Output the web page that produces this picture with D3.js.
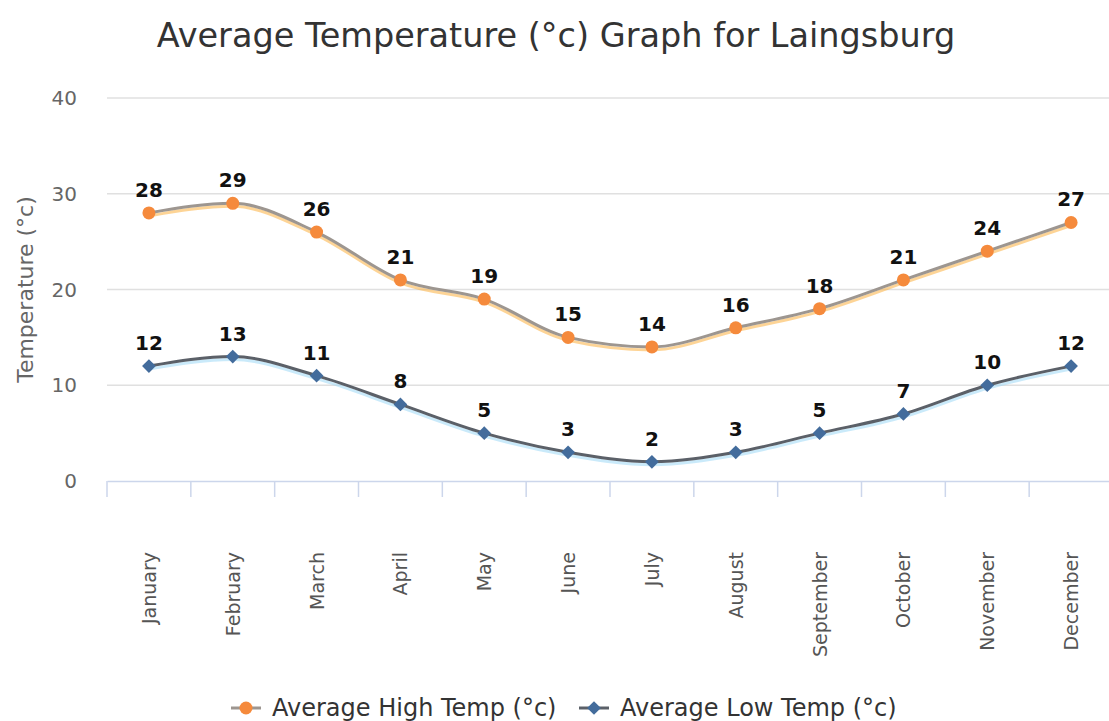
<!DOCTYPE html>
<html><head><meta charset="utf-8">
<script src="https://cdn.jsdelivr.net/npm/d3@7"></script>
<style>body{margin:0;background:#fff}svg{display:block;font-family:"DejaVu Sans",sans-serif}</style>
</head><body><svg id="c" width="1109" height="721"></svg>
<script>
const months = ["January","February","March","April","May","June","July","August","September","October","November","December"];
const highTemps = [28,29,26,21,19,15,14,16,18,21,24,27];
const lowTemps = [12,13,11,8,5,3,2,3,5,7,10,12];
const yTicks = [0,10,20,30,40];
const titleText = "Average Temperature (°c) Graph for Laingsburg";
const yAxisTitle = "Temperature (°c)";
const seriesNames = ["Average High Temp (°c)","Average Low Temp (°c)"];

const svg = d3.select("#c");
const L = 107, R = 1113, T = 98, B = 481;
const x = d3.scaleBand().domain(months).range([L, R]);
const y = d3.scaleLinear().domain([0, 40]).range([B, T]);
const cx = d => x(d) + x.bandwidth() / 2;

svg.append("text").attr("x", 556).attr("y", 47).attr("text-anchor", "middle")
  .attr("font-size", 33.5).attr("fill", "#333").text(titleText);

// grid
svg.append("g").selectAll("line").data(yTicks.filter(t => t > 0)).join("line")
  .attr("x1", L).attr("x2", R).attr("y1", d => y(d)).attr("y2", d => y(d))
  .attr("stroke", "#e0e0e0").attr("stroke-width", 1.5);
svg.append("g").selectAll("text").data(yTicks).join("text")
  .attr("x", 77).attr("y", d => y(d) + 7).attr("text-anchor", "end")
  .attr("font-size", 20).attr("fill", "#666").text(d => d);

svg.append("text").attr("transform", `translate(33,${(T + B) / 2}) rotate(-90)`)
  .attr("text-anchor", "middle").attr("font-size", 22).attr("fill", "#666").text(yAxisTitle);

// x axis
const xa = svg.append("g").attr("transform", `translate(0,${B})`)
  .call(d3.axisBottom(x).tickSize(0).tickFormat(""));
xa.select(".domain").attr("stroke", "#ccd6eb").attr("stroke-width", 1.5);
svg.append("g").selectAll("line").data(d3.range(months.length + 1)).join("line")
  .attr("x1", i => L + i * x.step()).attr("x2", i => L + i * x.step())
  .attr("y1", B).attr("y2", B + 16).attr("stroke", "#ccd6eb").attr("stroke-width", 1.5);
svg.append("g").selectAll("text").data(months).join("text")
  .attr("transform", d => `translate(${cx(d) + 7},552) rotate(-90)`)
  .attr("text-anchor", "end").attr("font-size", 19).attr("fill", "#555").text(d => d);

const line = d3.line().x((d, i) => cx(months[i])).y(d => y(d)).curve(d3.curveMonotoneX);

function series(vals, under, over, markerFill, shape, labelOff) {
  const g = svg.append("g");
  g.append("path").attr("d", line(vals)).attr("fill", "none").attr("stroke", under)
    .attr("stroke-width", 3).attr("opacity", 0.55).attr("transform", "translate(0,3)");
  g.append("path").attr("d", line(vals)).attr("fill", "none").attr("stroke", over).attr("stroke-width", 3);
  if (shape === "circle") {
    g.selectAll("circle").data(vals).join("circle")
      .attr("cx", (d, i) => cx(months[i])).attr("cy", d => y(d)).attr("r", 6.5)
      .attr("fill", markerFill);
  } else {
    g.selectAll("path.m").data(vals).join("path").attr("class", "m")
      .attr("d", d3.symbol(d3.symbolDiamond2, 120)())
      .attr("transform", (d, i) => `translate(${cx(months[i])},${y(d)})`)
      .attr("fill", markerFill);
  }
  g.selectAll("text").data(vals).join("text")
    .attr("x", (d, i) => cx(months[i])).attr("y", d => y(d) - labelOff)
    .attr("text-anchor", "middle").attr("font-size", 20).attr("font-weight", "bold")
    .attr("fill", "#111").text(d => d);
}
series(highTemps, "#fbb040", "#9d9690", "#f58a3c", "circle", 16);
series(lowTemps, "#9fd8f5", "#5b6068", "#436c9c", "diamond", 16);

// legend
const lg = svg.append("g");
const items = [
  {x: 231, name: seriesNames[0], line: "#9d9690", fill: "#f58a3c", shape: "circle"},
  {x: 579, name: seriesNames[1], line: "#5b6068", fill: "#436c9c", shape: "diamond"}
];
items.forEach(it => {
  lg.append("line").attr("x1", it.x).attr("x2", it.x + 30).attr("y1", 708).attr("y2", 708)
    .attr("stroke", it.line).attr("stroke-width", 3);
  if (it.shape === "circle") lg.append("circle").attr("cx", it.x + 15).attr("cy", 708).attr("r", 6.5).attr("fill", it.fill);
  else lg.append("path").attr("d", d3.symbol(d3.symbolDiamond2, 120)()).attr("transform", `translate(${it.x + 15},708)`).attr("fill", it.fill);
  lg.append("text").attr("x", it.x + 41).attr("y", 716).attr("font-size", 24).attr("fill", "#333").text(it.name);
});
</script></body></html>
